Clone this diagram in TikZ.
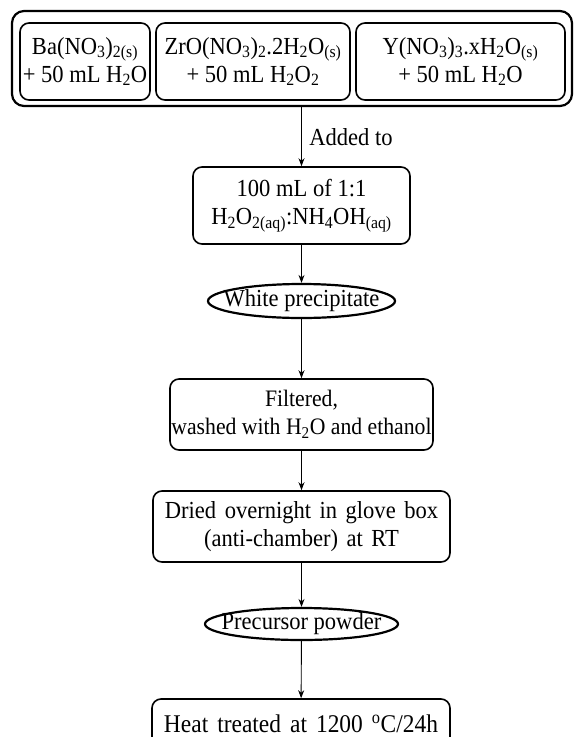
\documentclass[tikz,border=0pt]{standalone}
\usepackage{fontspec}
\setmainfont{Liberation Serif}[FakeStretch=0.92]
\usetikzlibrary{shapes.geometric, arrows.meta, positioning}

\begin{document}
\begin{tikzpicture}[
            x=1pt, y=-1pt,
            font=\fontsize{24.5}{28}\selectfont,
            box/.style={rectangle, rounded corners=9pt, draw, line width=1.6pt, align=center, inner sep=0pt},
            blob/.style={ellipse, draw, line width=2.2pt, align=center, inner xsep=-30pt, inner ysep=-10pt},
            arr/.style={-{Stealth[length=8pt, width=6pt]}, line width=0.9pt}
        ]
            \useasboundingbox (0,0) rectangle (580,737);
            \node[box, line width=2.2pt, rounded corners=12pt, minimum width=560pt, minimum height=95pt] (mix) at (292,58.5) {};
            \node[box, minimum width=130pt, minimum height=77pt] (ba) at (85,61.5) {Ba(NO\textsubscript{3})\textsubscript{2(s)}\\+ 50 mL H\textsubscript{2}O};
            \node[box, minimum width=194pt, minimum height=77pt] (zr) at (253,61.5) {ZrO(NO\textsubscript{3})\textsubscript{2}.2H\textsubscript{2}O\textsubscript{(s)}\\+ 50 mL H\textsubscript{2}O\textsubscript{2}};
            \node[box, minimum width=209pt, minimum height=77pt] (yt) at (460.5,61.5) {Y(NO\textsubscript{3})\textsubscript{3}.xH\textsubscript{2}O\textsubscript{(s)}\\+ 50 mL H\textsubscript{2}O};
            \node[box, minimum width=217pt, minimum height=77pt] (sol) at (301.5,205.5) {100 mL of 1:1\\H\textsubscript{2}O\textsubscript{2(aq)}:NH\textsubscript{4}OH\textsubscript{(aq)}};
            \node[blob, minimum width=187pt, minimum height=34pt] (white) at (301.5,301) {White precipitate};
            \node[box, minimum width=263pt, minimum height=71pt, font=\fontsize{23.6}{28}\selectfont] (filt) at (301.5,414.5) {Filtered,\\washed with H\textsubscript{2}O and ethanol};
            \node[box, minimum width=297pt, minimum height=71pt, font={\fontsize{24.5}{28}\selectfont\spaceskip=8.5pt plus 2pt\relax}] (dry) at (301.5,526.5) {Dried overnight in glove box\\(anti-chamber) at RT};
            \node[blob, minimum width=193pt, minimum height=32pt] (prec) at (301.5,624) {Precursor powder};
            \node[box, minimum width=298pt, minimum height=50pt, font={\fontsize{25.5}{28}\selectfont\spaceskip=9pt plus 2pt\relax}] (heat) at (301,724) {Heat treated at 1200 \textsuperscript{o}C/24h};
            \draw[arr] (mix.south -| sol.north) -- (sol.north) node[midway, right, xshift=4pt] {Added to};
            \draw[arr] (sol) -- (white);
            \draw[arr] (white) -- (filt);
            \draw[arr] (filt) -- (dry);
            \draw[arr] (dry) -- (prec);
            \draw[arr] (prec) -- (heat);
        \end{tikzpicture}
\end{document}
